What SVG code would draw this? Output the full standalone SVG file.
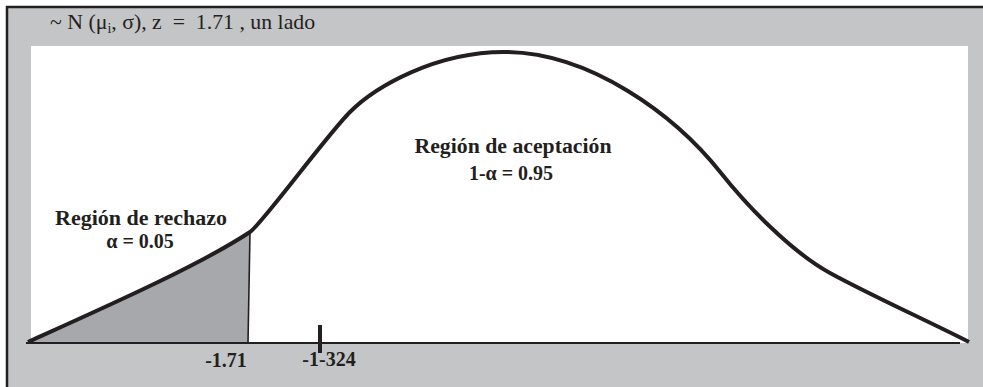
<svg xmlns="http://www.w3.org/2000/svg" width="983" height="387" viewBox="0 0 983 387">
  <style>
    .serif { font-family: "Liberation Serif", "Times New Roman", Tinos, "DejaVu Serif", serif; fill: #231f20; }
    .lbl { font-weight: 700; font-size: 20px; text-anchor: middle; }
    .ttl { font-size: 21.8px; white-space: pre; }
    .ink { stroke: #231f20; fill: none; }
  </style>
  <rect x="0" y="0" width="983" height="387" fill="#ffffff"/>
  <g id="frame">
    <rect x="7" y="7" width="976" height="380" fill="#c4c5c7"/>
    <rect x="31" y="46" width="937" height="297" fill="#ffffff"/>
    <line class="ink" x1="6" y1="7" x2="983" y2="7" stroke-width="2.5"/>
    <line class="ink" x1="7" y1="6" x2="7" y2="387" stroke-width="2.5"/>
  </g>
  <g id="title">
    <text class="serif ttl" x="50" y="29">~ N (μ<tspan font-size="14" dy="4">i</tspan><tspan dy="-4">, σ), z  =  1.71 , un lado</tspan></text>
  </g>
  <g id="rejection-region">
    <path d="M28,343 C110,305 200,265 250,232 L248,343 Z" fill="#a7a8ab"/>
    <line class="ink" x1="250" y1="232" x2="248" y2="343" stroke-width="1.6"/>
    <text class="serif lbl" x="141" y="225" textLength="172" lengthAdjust="spacingAndGlyphs">Región de rechazo</text>
    <text class="serif lbl" x="140" y="248">α = 0.05</text>
  </g>
  <g id="acceptance-region">
    <text class="serif lbl" x="513" y="153" textLength="197" lengthAdjust="spacingAndGlyphs">Región de aceptación</text>
    <text class="serif lbl" x="511" y="180">1-α = 0.95</text>
  </g>
  <g id="connectors">
    <line id="axis" class="ink" x1="26" y1="343" x2="960" y2="343" stroke-width="2"/>
    <path id="curve" class="ink" stroke-width="4" stroke-linejoin="round" d="M28,342 C110,305 200,265 250,232 C262,224 326,136 350,112 C375,87 435,52 504,52 C590,52 675,115 721,173 C746,204.5 790,251 830,273 C870,295 930,322 969,342"/>
    <line id="tick" class="ink" x1="320" y1="325" x2="320" y2="353" stroke-width="4"/>
  </g>
  <g id="axis-labels">
    <text class="serif lbl" x="226" y="367">-1.71</text>
    <text class="serif lbl" x="329" y="366">-1-324</text>
  </g>
</svg>
